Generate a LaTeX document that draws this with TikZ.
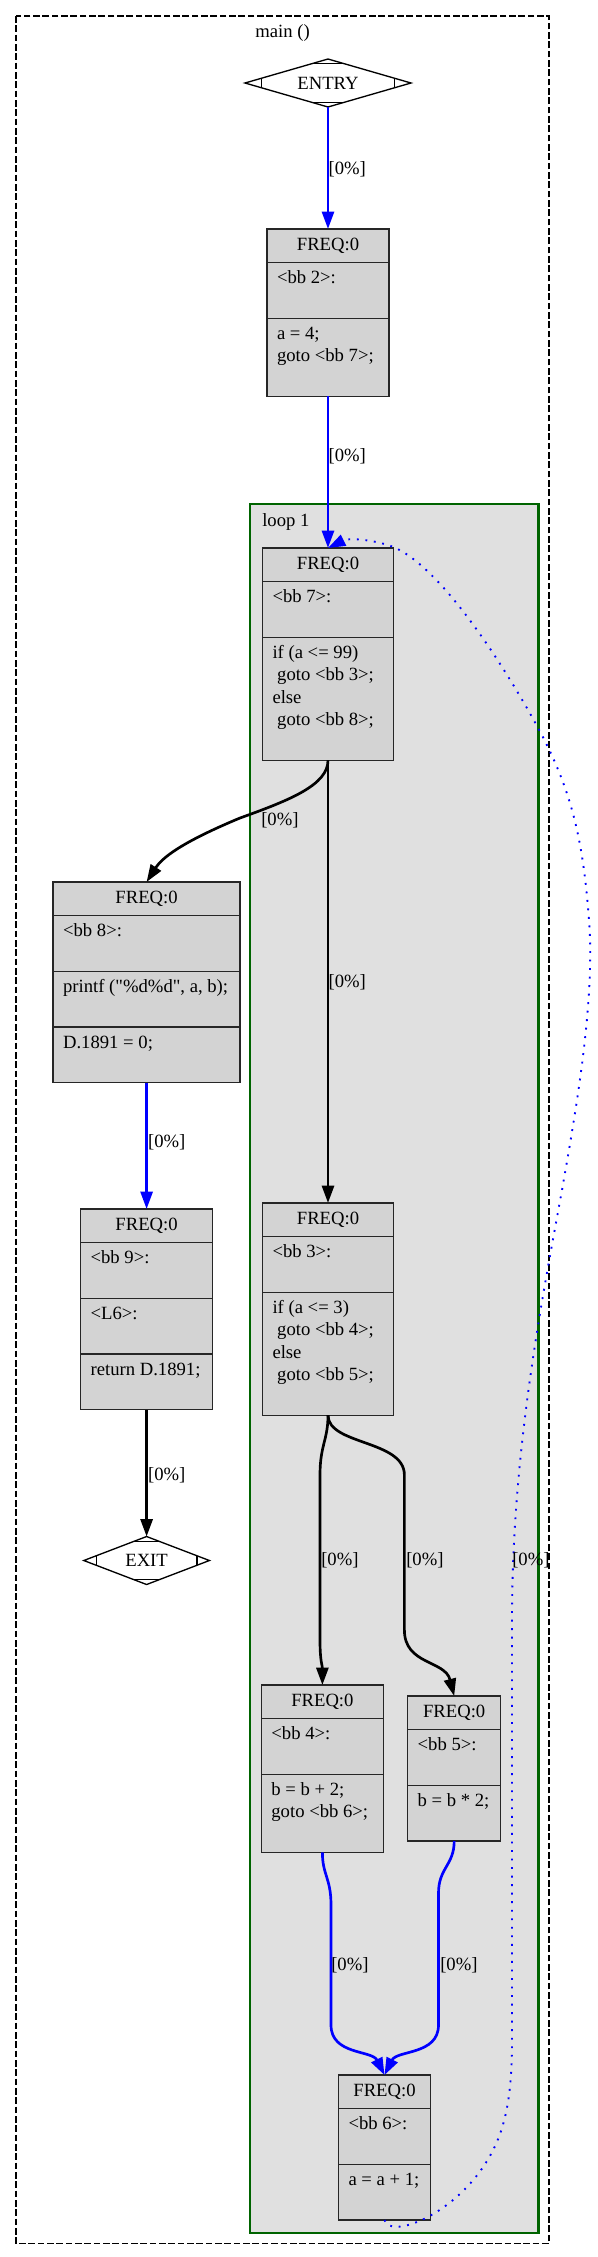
\documentclass[tikz,border=0pt]{standalone}
\usepackage{fontspec}
\setmainfont{Liberation Serif}[Ligatures=TeXOff]
\usetikzlibrary{positioning,calc,arrows.meta,shapes.geometric}
\definecolor{bbfill}{HTML}{D3D3D3}
\definecolor{loopfill}{HTML}{E0E0E0}
\definecolor{loopline}{HTML}{006400}
\newcommand\gvfont{\fontsize{14}{16.8}\selectfont}
\newcommand\gvind{\hspace*{.25em}}
\newcommand\mdiamondmarks[1]{\draw[line width=1pt]
  ($(#1.north)!.2!(#1.west)$) -- ($(#1.north)!.2!(#1.east)$)
  ($(#1.south)!.2!(#1.west)$) -- ($(#1.south)!.2!(#1.east)$)
  ($(#1.west)!.2!(#1.north)$) -- ($(#1.west)!.2!(#1.south)$)
  ($(#1.east)!.2!(#1.north)$) -- ($(#1.east)!.2!(#1.south)$);}
\tikzset{
  gvrow/.style={draw=black!85, line width=1pt, fill=bbfill, font=\gvfont, inner xsep=7.5pt, inner ysep=4.125pt, outer sep=0pt,
    execute at begin node=\strut, execute at end node=\strut},
  bbrow/.style={gvrow, align=left, execute at begin node={\spaceskip=0pt\xspaceskip=0pt\rightskip=0pt plus 1fil minus 100pt}},
  freqrow/.style={gvrow, align=center},
  term/.style={diamond, draw=black, line width=1pt, aspect=3.5, minimum height=36pt, inner sep=0pt, outer sep=0pt, font=\gvfont},
  title/.style={font=\gvfont, inner sep=0pt},
  lbl/.style={font=\gvfont, inner sep=0pt, anchor=west},
  flow/.style={line width=2pt, -{Triangle[length=13pt,width=9pt]}},
  flowblue/.style={flow, draw=blue},
  backflow/.style={draw=blue, line width=1.4pt, dash pattern=on 1.4pt off 5pt, -{Triangle[length=13pt,width=9pt]}},
}
\begin{document}
\begin{tikzpicture}[x=0.75pt,y=-0.75pt]
  %%%%% START %%%%%
  \useasboundingbox (0,0) rectangle (597,2257);

  \draw[line width=1pt, dash pattern=on 5pt off 2pt] (16,16) rectangle (549,2243.5);
  \node[title, anchor=base] (main-title) at (282.5,37.5) {main ()};

  \draw[line width=2pt, draw=loopline, fill=loopfill] (250,504) rectangle (538.5,2233);
  \node[title, anchor=base west] (loop-title) at (262,526) {loop 1};

  \node[term, minimum width=124.5pt] (entry) at (328,83) {ENTRY};
  \mdiamondmarks{entry}
  \node[term, minimum width=94.2pt] (exit) at (146.6,1560.5) {EXIT};
  \mdiamondmarks{exit}

  % bb 2
  \begin{scope}[nodes={text width=76.5pt}]
    \node[freqrow, anchor=north] (bb2-f) at (328,229) {FREQ:0};
    \node[bbrow, below=0pt of bb2-f] (bb2-l) {<bb 2>:\\};
    \node[bbrow, below=0pt of bb2-l] (bb2-s) {a = 4;\\goto <bb 7>;\\};
  \end{scope}

  % bb 7
  \begin{scope}[nodes={text width=83.25pt}]
    \node[freqrow, anchor=north] (bb7-f) at (328,548) {FREQ:0};
    \node[bbrow, below=0pt of bb7-f] (bb7-l) {<bb 7>:\\};
    \node[bbrow, below=0pt of bb7-l] (bb7-s) {if (a <= 99)\\\gvind goto <bb 3>;\\else\\\gvind goto <bb 8>;\\};
  \end{scope}

  % bb 8
  \begin{scope}[nodes={text width=125.25pt}]
    \node[freqrow, anchor=north] (bb8-f) at (146.6,882) {FREQ:0};
    \node[bbrow, below=0pt of bb8-f] (bb8-l) {<bb 8>:\\};
    \node[bbrow, below=0pt of bb8-l] (bb8-s) {printf ("\%d\%d", a, b);\\};
    \node[bbrow, below=0pt of bb8-s] (bb8-t) {D.1891 = 0;\\};
  \end{scope}

  % bb 9
  \begin{scope}[nodes={text width=84pt}]
    \node[freqrow, anchor=north] (bb9-f) at (146.6,1209) {FREQ:0};
    \node[bbrow, below=0pt of bb9-f] (bb9-l) {<bb 9>:\\};
    \node[bbrow, below=0pt of bb9-l] (bb9-m) {<L6>:\\};
    \node[bbrow, below=0pt of bb9-m] (bb9-s) {return D.1891;\\};
  \end{scope}

  % bb 3
  \begin{scope}[nodes={text width=83.25pt}]
    \node[freqrow, anchor=north] (bb3-f) at (328,1203) {FREQ:0};
    \node[bbrow, below=0pt of bb3-f] (bb3-l) {<bb 3>:\\};
    \node[bbrow, below=0pt of bb3-l] (bb3-s) {if (a <= 3)\\\gvind goto <bb 4>;\\else\\\gvind goto <bb 5>;\\};
  \end{scope}

  % bb 4
  \begin{scope}[nodes={text width=76.5pt}]
    \node[freqrow, anchor=north] (bb4-f) at (322.4,1685) {FREQ:0};
    \node[bbrow, below=0pt of bb4-f] (bb4-l) {<bb 4>:\\};
    \node[bbrow, below=0pt of bb4-l] (bb4-s) {b = b + 2;\\goto <bb 6>;\\};
  \end{scope}

  % bb 5
  \begin{scope}[nodes={text width=54.75pt}]
    \node[freqrow, anchor=north] (bb5-f) at (454.2,1696) {FREQ:0};
    \node[bbrow, below=0pt of bb5-f] (bb5-l) {<bb 5>:\\};
    \node[bbrow, below=0pt of bb5-l] (bb5-s) {b = b * 2;\\};
  \end{scope}

  % bb 6
  \begin{scope}[nodes={text width=54pt}]
    \node[freqrow, anchor=north] (bb6-f) at (384.5,2075) {FREQ:0};
    \node[bbrow, below=0pt of bb6-f] (bb6-l) {<bb 6>:\\};
    \node[bbrow, below=0pt of bb6-l] (bb6-s) {a = a + 1;\\};
  \end{scope}

  % edges
  \draw[flowblue] (entry.south) -- (bb2-f.north);
  \draw[flowblue] (bb2-s.south) -- (bb7-f.north);
  \draw[flow] (bb7-s.south) .. controls (328,785) and (290,800) .. (240,818) .. controls (180,843) and (162,858) .. (bb8-f.north);
  \draw[flow] (bb7-s.south) -- (bb3-f.north);
  \draw[flowblue] (bb8-t.south) -- (bb9-f.north);
  \draw[flow] (bb9-s.south) -- (exit.north);
  \draw[flow] (bb3-s.south) .. controls (328,1440) and (320,1445) .. (320,1475) -- (320,1640) .. controls (320,1662) and (322.4,1665) .. (bb4-f.north);
  \draw[flow] (bb3-s.south) .. controls (328,1445) and (404.4,1440) .. (404.4,1475) -- (404.4,1630) .. controls (404.4,1665) and (445,1660) .. (bb5-f.north);
  \draw[flowblue] (bb4-s.south) .. controls (322.4,1875) and (331,1878) .. (331,1905) -- (331,2025) .. controls (331,2055) and (372,2050) .. (bb6-f.north);
  \draw[flowblue] (bb5-s.south) .. controls (454.2,1865) and (438.5,1868) .. (438.5,1893) -- (438.5,2025) .. controls (438.5,2055) and (397,2050) .. (bb6-f.north);
  \draw[backflow] (bb6-s.south) .. controls (389,2240) and (458,2215) .. (491,2154)
    .. controls (507,2125) and (512,2090) .. (512,2040) -- (512,1620)
    .. controls (512,1450) and (542,1300) .. (562,1190)
    .. controls (577,1105) and (595,1000) .. (589,920)
    .. controls (583,840) and (572,790) .. (537,726)
    .. controls (503,664) and (437,560) .. (388,545)
    .. controls (368,539) and (348,538) .. (bb7-f.north);

  % edge labels
  \node[lbl] (p-entry) at (328.3,169) {[0\%]};
  \node[lbl] (p-bb2) at (328.3,456) {[0\%]};
  \node[lbl] (p-bb7a) at (261,820) {[0\%]};
  \node[lbl] (p-bb7b) at (328.3,982) {[0\%]};
  \node[lbl] (p-bb8) at (147.8,1142) {[0\%]};
  \node[lbl] (p-bb9) at (147.8,1475) {[0\%]};
  \node[lbl] (p-bb3a) at (321,1560) {[0\%]};
  \node[lbl] (p-bb3b) at (406,1560) {[0\%]};
  \node[lbl] (p-back) at (512,1560) {[0\%]};
  \node[lbl] (p-bb4) at (331,1965) {[0\%]};
  \node[lbl] (p-bb5) at (440,1965) {[0\%]};
  %%%%% END %%%%%
\end{tikzpicture}
\end{document}
